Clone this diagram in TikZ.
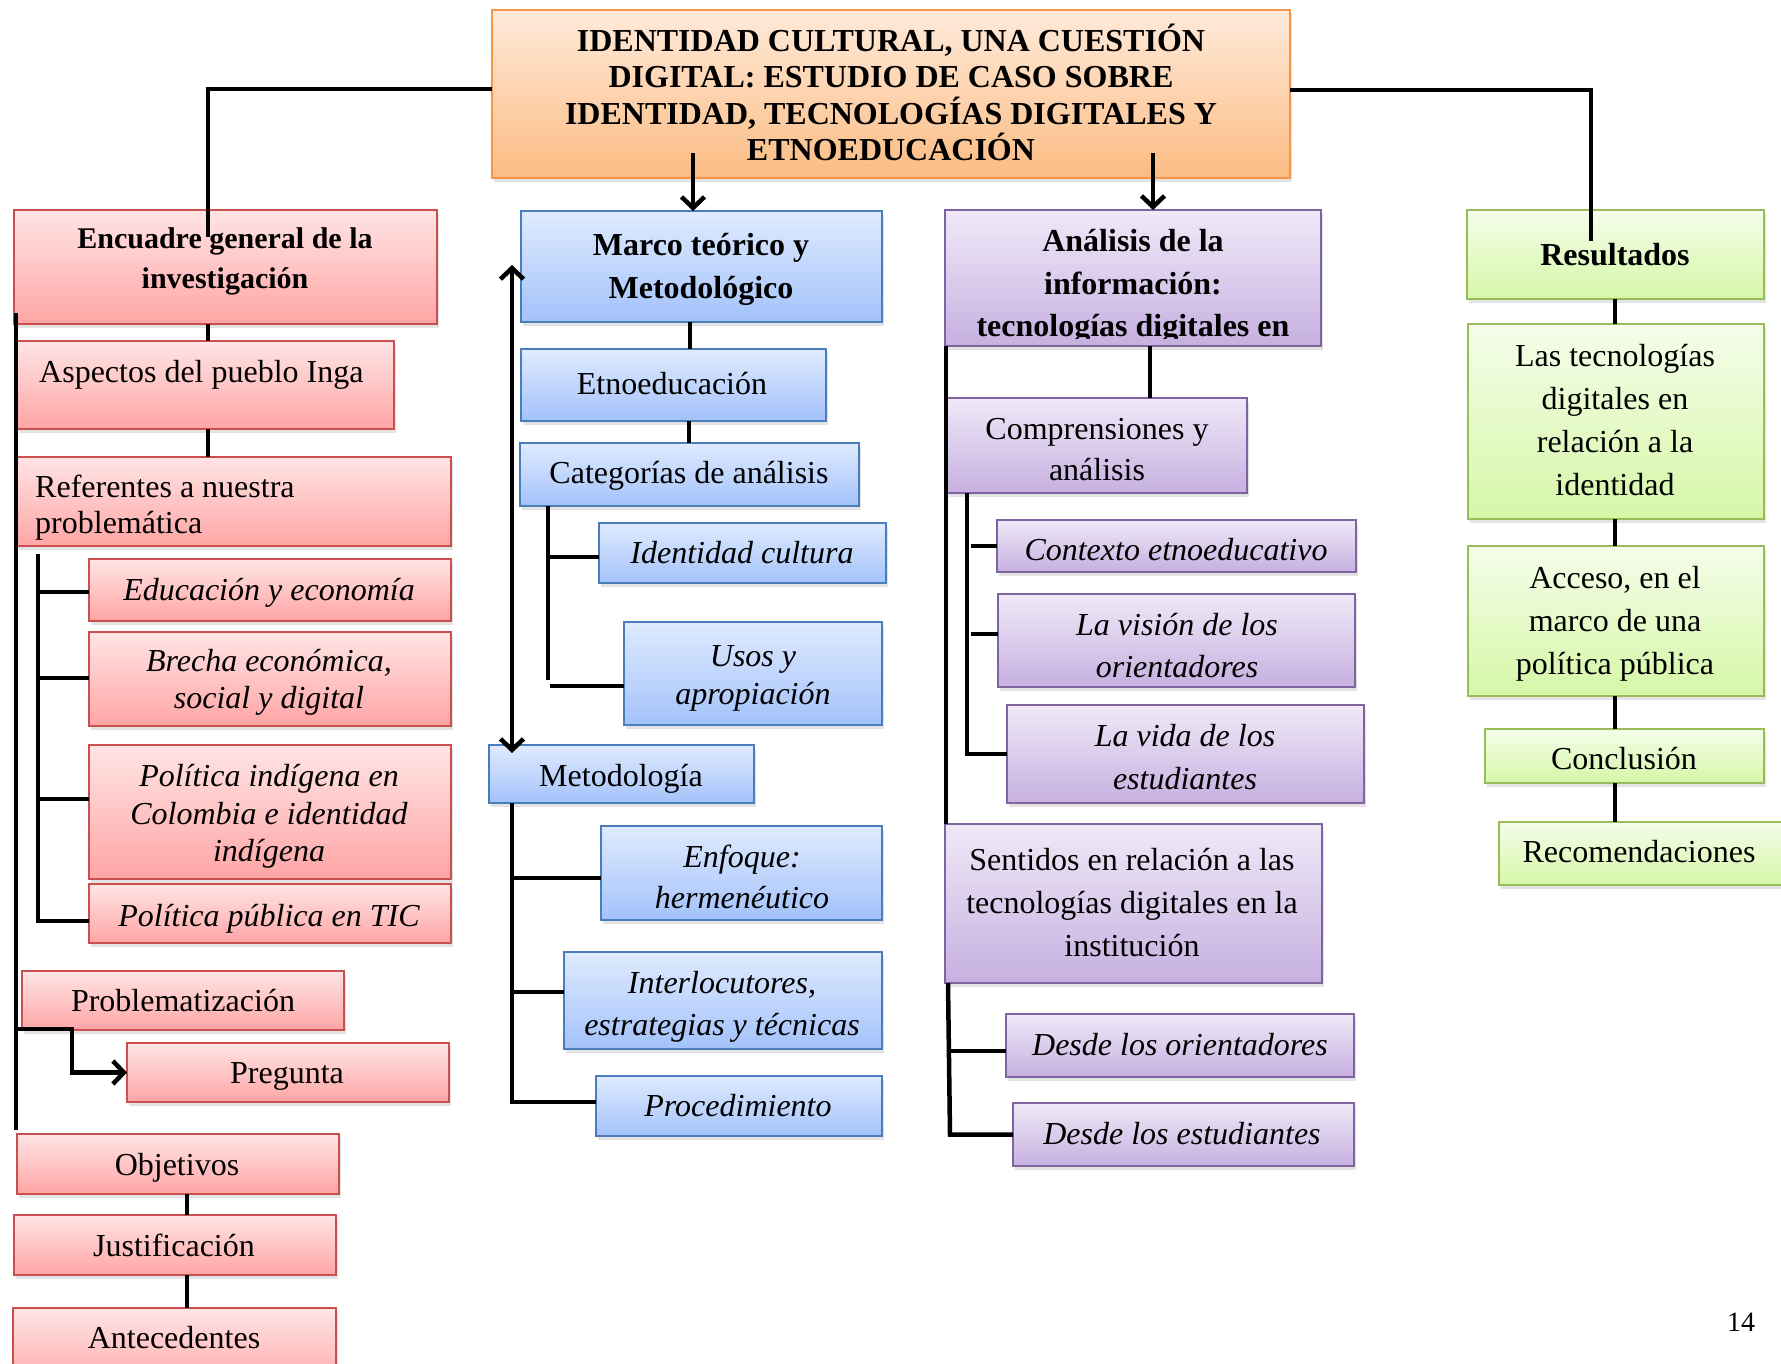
\documentclass[tikz,border=0pt]{standalone}
\usepackage{fontspec}
\setmainfont{Liberation Serif}
\usetikzlibrary{arrows.meta,shadows,calc}
\definecolor{redT}{HTML}{FFE4E4}
\definecolor{redB}{HTML}{FFA5A5}
\definecolor{redD}{HTML}{C9504E}
\definecolor{bluT}{HTML}{DFEBFF}
\definecolor{bluB}{HTML}{A3C2FA}
\definecolor{bluD}{HTML}{4A7EBB}
\definecolor{purT}{HTML}{F0E9F8}
\definecolor{purB}{HTML}{C6B0E0}
\definecolor{purD}{HTML}{8064A2}
\definecolor{grnT}{HTML}{F5FDEA}
\definecolor{grnB}{HTML}{D5F7A7}
\definecolor{grnD}{HTML}{9BBB59}
\definecolor{orgT}{HTML}{FFEADA}
\definecolor{orgB}{HTML}{FBBC83}
\definecolor{orgD}{HTML}{F79646}
\newcommand{\fsz}[2]{\fontsize{#1}{#2}\selectfont}
\newcommand{\mkbox}[6]{\node[#2, minimum width={(#5)-(#3)}, minimum height={(#6)-(#4)}] (#1) at ({((#3)+(#5))/2},{((#4)+(#6))/2}) {};}
\tikzset{
  bxbase/.style={rectangle, inner sep=0pt, outer sep=0pt, line width=2pt,
    drop shadow={shadow xshift=2pt, shadow yshift=-4pt, opacity=0.22}},
  rbox/.style={bxbase, draw=redD, top color=redT, bottom color=redB},
  bbox/.style={bxbase, draw=bluD, top color=bluT, bottom color=bluB},
  pbox/.style={bxbase, draw=purD, top color=purT, bottom color=purB},
  gbox/.style={bxbase, draw=grnD, top color=grnT, bottom color=grnB},
  obox/.style={bxbase, draw=orgD, top color=orgT, bottom color=orgB},
  txt/.style={align=center, inner sep=0pt},
  conn/.style={line width=4.5pt, line join=miter, draw=black},
  arr/.style={conn, -{Straight Barb[length=11pt,width=23pt]}},
  darr/.style={conn, {Straight Barb[length=11pt,width=23pt]}-{Straight Barb[length=11pt,width=23pt]}}
}
\begin{document}
\begin{tikzpicture}[x=1pt,y=-1pt]
\useasboundingbox (0,0) rectangle (1781,1364);
\fill[white] (0,0) rectangle (1781,1364);

% ---------- boxes ----------
\mkbox{title}{obox}{492}{10}{1290}{178}
% red
\mkbox{enc}{rbox}{14}{210}{437}{324}
\mkbox{asp}{rbox}{17}{341}{394}{429}
\mkbox{ref}{rbox}{17}{457}{451}{546}
\mkbox{edu}{rbox}{89}{559}{451}{621}
\mkbox{bre}{rbox}{89}{632}{451}{726}
\mkbox{pin}{rbox}{89}{745}{451}{879}
\mkbox{ptic}{rbox}{89}{884}{451}{943}
\mkbox{prob}{rbox}{22}{971}{344}{1030}
\mkbox{preg}{rbox}{127}{1043}{449}{1102}
\mkbox{obj}{rbox}{17}{1134}{339}{1194}
\mkbox{jus}{rbox}{14}{1215}{336}{1275}
\mkbox{ante}{rbox}{13}{1308}{336}{1392}
% blue
\mkbox{marco}{bbox}{521}{211}{882}{322}
\mkbox{etno}{bbox}{521}{349}{826}{421}
\mkbox{cat}{bbox}{520}{443}{859}{506}
\mkbox{idc}{bbox}{599}{523}{886}{583}
\mkbox{uso}{bbox}{624}{622}{882}{725}
\mkbox{met}{bbox}{489}{745}{754}{803}
\mkbox{enf}{bbox}{601}{826}{882}{920}
\mkbox{inter}{bbox}{564}{952}{882}{1049}
\mkbox{proc}{bbox}{596}{1076}{882}{1136}
% purple
\mkbox{ana}{pbox}{945}{210}{1321}{346}
\mkbox{comp}{pbox}{947}{398}{1247}{493}
\mkbox{ctx}{pbox}{997}{520}{1356}{572}
\mkbox{vis}{pbox}{998}{594}{1355}{687}
\mkbox{vid}{pbox}{1007}{705}{1364}{803}
\mkbox{sen}{pbox}{945}{824}{1322}{983}
\mkbox{dor}{pbox}{1006}{1014}{1354}{1077}
\mkbox{des}{pbox}{1013}{1103}{1354}{1166}
% green
\mkbox{res}{gbox}{1467}{210}{1764}{299}
\mkbox{las}{gbox}{1468}{324}{1764}{519}
\mkbox{acc}{gbox}{1468}{546}{1764}{696}
\mkbox{concl}{gbox}{1485}{729}{1764}{783}
\mkbox{rec}{gbox}{1499}{822}{1792}{885}

% ---------- texts ----------
\node[txt, font=\fsz{32}{36.3}\bfseries] (title-t) at (891,92.5)
  {IDENTIDAD CULTURAL, UNA CUESTIÓN\\DIGITAL: ESTUDIO DE CASO SOBRE\\IDENTIDAD, TECNOLOGÍAS DIGITALES Y\\ETNOEDUCACIÓN};
\node[txt, font=\fsz{30}{40}\bfseries] (enc-t) at (225,261.5) {Encuadre general de la\\investigación};
\node[txt, anchor=west, font=\fsz{32}{36}] (asp-t) at (39,374.5) {Aspectos del pueblo Inga};
\node[txt, align=left, anchor=west, font=\fsz{32}{36}] (ref-t) at (35,507.5) {Referentes a nuestra\\problemática};
\node[txt, font=\fsz{32}{36}\itshape] (edu-t) at (269,592.5) {Educación y economía};
\node[txt, font=\fsz{32}{36.5}\itshape] (bre-t) at (269,682.5) {Brecha económica,\\social y digital};
\node[txt, font=\fsz{32}{37.5}\itshape] (pin-t) at (269,816.5) {Política indígena en\\Colombia e identidad\\indígena};
\node[txt, font=\fsz{32}{36}\itshape] (ptic-t) at (269,918.5) {Política pública en TIC};
\node[txt, font=\fsz{32}{36}] (prob-t) at (183,1001) {Problematización};
\node[txt, font=\fsz{32}{36}] (preg-t) at (287,1076.5) {Pregunta};
\node[txt, font=\fsz{32}{36}] (obj-t) at (177,1167.5) {Objetivos};
\node[txt, font=\fsz{32}{36}] (jus-t) at (174,1245) {Justificación};
\node[txt, font=\fsz{32}{36}] (ante-t) at (174,1338) {Antecedentes};

\node[txt, font=\fsz{32}{43}\bfseries] (marco-t) at (701,269) {Marco teórico y\\Metodológico};
\node[txt, font=\fsz{32}{36}] (etno-t) at (672,384) {Etnoeducación};
\node[txt, font=\fsz{32}{36}] (cat-t) at (689,475.5) {Categorías de análisis};
\node[txt, font=\fsz{32}{36}\itshape] (idc-t) at (742,553) {Identidad cultura};
\node[txt, font=\fsz{32}{37.5}\itshape] (uso-t) at (753,678.5) {Usos y\\apropiación};
\node[txt, font=\fsz{32}{36}] (met-t) at (621,778.5) {Metodología};
\node[txt, font=\fsz{32}{41}\itshape] (enf-t) at (742,877) {Enfoque:\\hermenéutico};
\node[txt, font=\fsz{32}{42}\itshape] (inter-t) at (722,1007) {Interlocutores,\\estrategias y técnicas};
\node[txt, font=\fsz{32}{36}\itshape] (proc-t) at (738,1106) {Procedimiento};

\begin{scope}
  \clip (945,210) rectangle (1321,339);
  \node[txt, font=\fsz{32}{42.6}\bfseries] (ana-t) at (1133,286.5) {Análisis de la\\información:\\tecnologías digitales en};
\end{scope}
\node[txt, font=\fsz{32}{41}] (comp-t) at (1097,449.5) {Comprensiones y\\análisis};
\node[txt, font=\fsz{32}{36}\itshape] (ctx-t) at (1176,550) {Contexto etnoeducativo};
\node[txt, font=\fsz{32}{42}\itshape] (vis-t) at (1177,646) {La visión de los\\orientadores};
\node[txt, font=\fsz{32}{43}\itshape] (vid-t) at (1185,757.5) {La vida de los\\estudiantes};
\node[txt, font=\fsz{32}{42.6}] (sen-t) at (1132,902.5) {Sentidos en relación a las\\tecnologías digitales en la\\institución};
\node[txt, font=\fsz{32}{36}\itshape] (dor-t) at (1180,1045) {Desde los orientadores};
\node[txt, font=\fsz{32}{36}\itshape] (des-t) at (1182,1133.5) {Desde los estudiantes};

\node[txt, font=\fsz{32}{36}\bfseries] (res-t) at (1615,254.5) {Resultados};
\node[txt, font=\fsz{32}{42.8}] (las-t) at (1615,420) {Las tecnologías\\digitales en\\relación a la\\identidad};
\node[txt, font=\fsz{32}{43}] (acc-t) at (1615,623.5) {Acceso, en el\\marco de una\\política pública};
\node[txt, font=\fsz{32}{36}] (concl-t) at (1624,759) {Conclusión};
\node[txt, font=\fsz{32}{36}] (rec-t) at (1639,852) {Recomendaciones};

\node[txt, font=\fsz{28}{32}] (pg) at (1741,1322) {14};

% ---------- connectors ----------
\coordinate (encIn) at (208,237);
\coordinate (resIn) at (1591,241);
\coordinate (tA) at (693,153);
\coordinate (tB) at (1153,153);
\coordinate (LmT) at (16,313);
\coordinate (LmB) at (16,1130);
\coordinate (dTop) at (512,265);
\coordinate (dBot) at (512,753);

\draw[conn] (title.west |- 0,89) -| (encIn);
\draw[conn] (title.east |- 0,90) -| (resIn);
\draw[arr] (tA) -- (tA |- marco.north);
\draw[arr] (tB) -- (tB |- ana.north);

% left column
\draw[conn] (enc.south -| 208,0) -- (asp.north -| 208,0);
\draw[conn] (asp.south -| 208,0) -- (ref.north -| 208,0);
\draw[conn] (LmT) -- (LmB);
\draw[conn] (38,554) |- (ptic.west |- 0,921);
\draw[conn] (38,592) -- (edu.west |- 0,592);
\draw[conn] (38,678) -- (bre.west |- 0,678);
\draw[conn] (38,799) -- (pin.west |- 0,799);
\draw[arr] (LmT |- 0,1029) -- (72,1029) |- (preg.west);
\draw[conn] (obj.south -| 187,0) -- (jus.north -| 187,0);
\draw[conn] (jus.south -| 187,0) -- (ante.north -| 187,0);

% blue column
\draw[conn] (marco.south -| 690,0) -- (etno.north -| 690,0);
\draw[conn] (etno.south -| 689,0) -- (cat.north -| 689,0);
\draw[conn] (cat.south -| 548,0) -- (548,680);
\draw[conn] (548,557) -- (idc.west |- 0,557);
\draw[conn] (550,686) -- (uso.west |- 0,686);
\draw[darr] (dTop) -- (dBot);
\draw[conn] (met.south -| 512,0) |- (proc.west |- 0,1102);
\draw[conn] (512,878) -- (enf.west |- 0,878);
\draw[conn] (512,992) -- (inter.west |- 0,992);

% purple column
\draw[conn] (ana.south -| 1150,0) -- (comp.north -| 1150,0);
\draw[conn] (ana.south -| 946,0) -- (sen.north -| 946,0);
\draw[conn] (comp.south -| 967,0) |- (vid.west);
\draw[conn] (971,546) -- (ctx.west);
\draw[conn] (971,634) -- (vis.west |- 0,634);
\draw[conn] (sen.south -| 948,0) -- (950,1134.5) -- (des.west);
\draw[conn] (950,1051) -- (dor.west |- 0,1051);

% green column
\draw[conn] (res.south -| 1615,0) -- (las.north -| 1615,0);
\draw[conn] (las.south -| 1615,0) -- (acc.north -| 1615,0);
\draw[conn] (acc.south -| 1615,0) -- (concl.north -| 1615,0);
\draw[conn] (concl.south -| 1615,0) -- (rec.north -| 1615,0);
\end{tikzpicture}
\end{document}
